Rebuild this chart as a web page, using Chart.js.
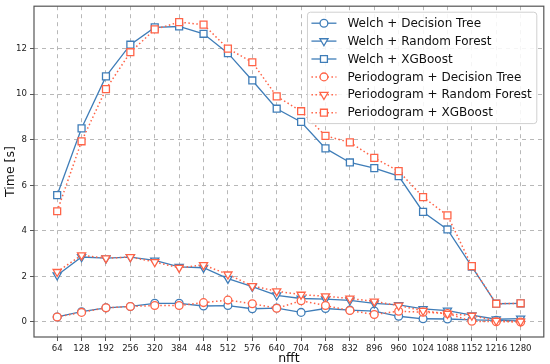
<!DOCTYPE html>
<html>
<head>
<meta charset="utf-8">
<script src="https://cdn.jsdelivr.net/npm/chart.js@4/dist/chart.umd.min.js"></script>
<style>
  html, body { margin: 0; padding: 0; background: #fff; }
  #wrap { width: 550px; height: 364px; }
</style>
</head>
<body>
<div id="wrap"><canvas id="timeChart"></canvas></div>
<script>
// data
const nfft = [64, 128, 192, 256, 320, 384, 448, 512, 576, 640, 704, 768, 832, 896, 960, 1024, 1088, 1152, 1216, 1280];
const yTicks = [0, 2, 4, 6, 8, 10, 12];

const welchDT   = [0.22, 0.45, 0.62, 0.68, 0.82, 0.82, 0.70, 0.72, 0.58, 0.61, 0.42, 0.59, 0.52, 0.48, 0.25, 0.14, 0.13, 0.09, 0.07, 0.05];
const welchRF   = [2.05, 2.85, 2.80, 2.85, 2.70, 2.42, 2.38, 1.90, 1.55, 1.17, 1.03, 1.00, 0.95, 0.82, 0.75, 0.57, 0.50, 0.30, 0.12, 0.15];
const welchXGB  = [5.57, 8.50, 10.78, 12.17, 12.93, 12.97, 12.65, 11.80, 10.60, 9.36, 8.78, 7.62, 7.00, 6.75, 6.40, 4.83, 4.06, 2.43, 0.80, 0.82];
const periodDT  = [0.22, 0.42, 0.62, 0.68, 0.72, 0.72, 0.85, 0.96, 0.80, 0.60, 0.93, 0.72, 0.50, 0.33, 0.47, 0.43, 0.37, 0.03, 0.01, 0.00];
const periodRF  = [2.20, 2.93, 2.80, 2.85, 2.63, 2.38, 2.50, 2.09, 1.58, 1.35, 1.20, 1.13, 1.03, 0.90, 0.72, 0.49, 0.36, 0.28, 0.05, 0.02];
const periodXGB = [4.86, 7.93, 10.22, 11.84, 12.84, 13.16, 13.05, 12.00, 11.40, 9.90, 9.25, 8.17, 7.88, 7.20, 6.62, 5.48, 4.68, 2.45, 0.80, 0.82];

const blue = '#3f7db8';
const red = '#ff6347';
const font = "'DejaVu Sans', sans-serif";

function pts(vals) {
  return nfft.map((n, i) => ({ x: n, y: vals[i] }));
}

const series = [
  { label: 'Welch + Decision Tree',       vals: welchDT,   color: blue, dotted: false, marker: 'circle' },
  { label: 'Welch + Random Forest',       vals: welchRF,   color: blue, dotted: false, marker: 'tri' },
  { label: 'Welch + XGBoost',             vals: welchXGB,  color: blue, dotted: false, marker: 'square' },
  { label: 'Periodogram + Decision Tree', vals: periodDT,  color: red,  dotted: true,  marker: 'circle' },
  { label: 'Periodogram + Random Forest', vals: periodRF,  color: red,  dotted: true,  marker: 'tri' },
  { label: 'Periodogram + XGBoost',       vals: periodXGB, color: red,  dotted: true,  marker: 'square' }
];

const markerStyle = {
  circle: { pointStyle: 'circle', radius: 3.9, rotation: 0 },
  tri:    { pointStyle: 'triangle', radius: 4.7, rotation: 180 },
  square: { pointStyle: 'rect', radius: 4.9, rotation: 0 }
};

const datasets = series.map((s, i) => ({
  label: s.label,
  data: pts(s.vals),
  borderColor: s.color,
  borderWidth: s.dotted ? 1.5 : 1.3,
  borderDash: s.dotted ? [1.5, 2.5] : [],
  pointStyle: markerStyle[s.marker].pointStyle,
  pointRotation: markerStyle[s.marker].rotation,
  pointRadius: markerStyle[s.marker].radius,
  pointBorderWidth: 1.3,
  pointBorderColor: s.color,
  pointBackgroundColor: '#fff',
  tension: 0,
  order: series.length - i,
  _marker: s.marker
}));

// frame around plot + legend box in the upper right
const framePlugin = {
  id: 'frame',
  afterDraw(chart) {
    const ctx = chart.ctx;
    const a = chart.chartArea;
    ctx.save();
    ctx.strokeStyle = '#555';
    ctx.lineWidth = 1.2;
    ctx.strokeRect(a.left, a.top, a.right - a.left, a.bottom - a.top);

    // legend
    ctx.font = '12px ' + font;
    let maxW = 0;
    datasets.forEach(d => { maxW = Math.max(maxW, ctx.measureText(d.label).width); });
    const rowH = 17.9;
    const boxW = 40 + maxW + 5;
    const boxH = rowH * datasets.length + 4;
    const bx = a.right - 7 - boxW;
    const by = a.top + 6;
    ctx.beginPath();
    ctx.roundRect(bx, by, boxW, boxH, 3);
    ctx.fillStyle = 'rgba(255,255,255,0.85)';
    ctx.fill();
    ctx.strokeStyle = '#d0d0d0';
    ctx.lineWidth = 1;
    ctx.stroke();

    datasets.forEach((d, i) => {
      const cy = by + 11 + i * rowH;
      const x0 = bx + 4, x1 = bx + 29, cx = (x0 + x1) / 2;
      ctx.strokeStyle = d.borderColor;
      ctx.lineWidth = d.borderWidth;
      ctx.setLineDash(d.borderDash);
      ctx.beginPath();
      ctx.moveTo(x0, cy);
      ctx.lineTo(x1, cy);
      ctx.stroke();
      ctx.setLineDash([]);
      ctx.lineWidth = d.pointBorderWidth;
      ctx.fillStyle = '#fff';
      ctx.beginPath();
      if (d._marker === 'circle') {
        ctx.arc(cx, cy, 3.9, 0, Math.PI * 2);
      } else if (d._marker === 'tri') {
        const r = 4.7;
        ctx.moveTo(cx - r * 0.866, cy - r * 0.5);
        ctx.lineTo(cx + r * 0.866, cy - r * 0.5);
        ctx.lineTo(cx, cy + r);
        ctx.closePath();
      } else {
        const h = 4.9 * Math.SQRT1_2;
        ctx.rect(cx - h, cy - h, 2 * h, 2 * h);
      }
      ctx.fill();
      ctx.stroke();
      ctx.fillStyle = '#111';
      ctx.textBaseline = 'middle';
      ctx.textAlign = 'left';
      ctx.fillText(d.label, bx + 40, cy + 0.5);
    });
    ctx.restore();
  }
};

const gridStyle = {
  color: '#b0b0b0',
  lineWidth: 0.9,
  tickColor: '#444',
  tickLength: 4,
  tickBorderDash: [],
  drawTicks: true
};
const borderStyle = { display: false, dash: [4, 4] };

new Chart(document.getElementById('timeChart'), {
  type: 'line',
  data: { datasets: datasets },
  options: {
    responsive: true,
    maintainAspectRatio: false,
    animation: false,
    layout: { padding: { top: 3, right: 4, left: 0, bottom: 0 } },
    plugins: {
      legend: { display: false },
      tooltip: { enabled: false }
    },
    scales: {
      x: {
        type: 'linear',
        min: 3.2,
        max: 1340.8,
        afterBuildTicks: s => { s.ticks = nfft.map(v => ({ value: v })); },
        afterFit: s => { s.height = 27; s.paddingRight = 0; },
        grid: gridStyle,
        border: borderStyle,
        ticks: {
          color: '#222', font: { family: font, size: 8.6 }, padding: 3, maxRotation: 0, autoSkip: false,
          callback: v => String(v)
        },
        title: { display: true, text: 'nfft', color: '#111', font: { family: font, size: 12.5 }, padding: { top: 3, bottom: -2 } }
      },
      y: {
        min: -0.66,
        max: 13.86,
        afterBuildTicks: s => { s.ticks = yTicks.map(v => ({ value: v })); },
        afterFit: s => { s.width = 34; s.paddingTop = 0; s.paddingBottom = 0; },
        grid: gridStyle,
        border: borderStyle,
        ticks: { color: '#222', font: { family: font, size: 8.6 }, padding: 3, callback: v => String(v) },
        title: { display: true, text: 'Time [s]', color: '#111', font: { family: font, size: 12.5 }, padding: { top: 3, bottom: 0 } }
      }
    }
  },
  plugins: [framePlugin]
});
</script>
</body>
</html>
